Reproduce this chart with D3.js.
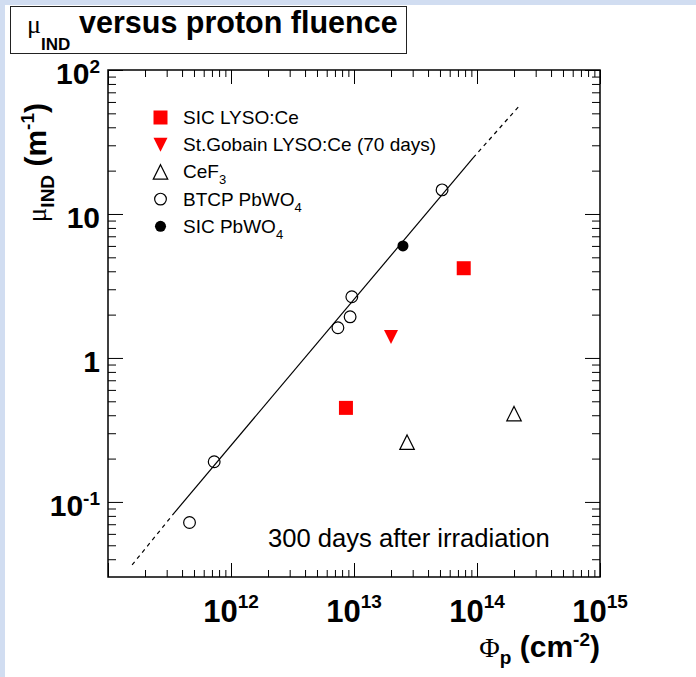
<!DOCTYPE html>
<html>
<head>
<meta charset="utf-8">
<script src="https://cdn.jsdelivr.net/npm/d3@7/dist/d3.min.js"></script>
<style>
  html, body { margin: 0; padding: 0; background: #fff; }
  svg { display: block; }
</style>
</head>
<body>
<div id="graph"></div>
<script>
// data (fluence in cm^-2, mu_IND in m^-1)
const lysoX = [8.6e12, 7.8e13];
const lysoY = [0.45, 4.2];

const gobainX = [2.0e13];
const gobainY = [1.4];

const cef3X = [2.7e13, 2.0e14];
const cef3Y = [0.26, 0.41];

const btcpX = [4.6e11, 7.3e11, 7.4e12, 9.3e12, 9.6e12, 5.2e13];
const btcpY = [0.072, 0.19, 1.62, 1.93, 2.66, 14.7];

const sicPbwoX = [2.5e13];
const sicPbwoY = [6.0];

// fit line, solid part and dashed extrapolations
const fitSolidX = [3.5e11, 9.3e13];
const fitSolidY = [0.085, 24.5];
const fitLowX = [1.57e11, 3.5e11];
const fitLowY = [0.0365, 0.085];
const fitHighX = [9.3e13, 2.24e14];
const fitHighY = [24.5, 57.2];

// tick labels
const xTickValues = [1e12, 1e13, 1e14, 1e15];
const xTickExp = ["12", "13", "14", "15"];
const yTickValues = [100, 10, 1, 0.1];
const yTickBase = ["10", "10", "1", "10"];
const yTickExp = ["2", "", "", "-1"];

const legendLabels = ["SIC LYSO:Ce", "St.Gobain LYSO:Ce (70 days)", "CeF", "BTCP PbWO", "SIC PbWO"];
const legendSubs = ["", "", "3", "4", "4"];

//mått
const width = 696;
const height = 677;
const frame = { left: 108, right: 600, top: 70, bottom: 577 };

const sans = "'Liberation Sans', Arial, Helvetica, sans-serif";
const serif = "'Liberation Serif', 'Times New Roman', serif";

const svg = d3.select("#graph")
    .append("svg")
    .attr("width", width)
    .attr("height", height);

// bakgrund
svg.append("rect").attr("width", width).attr("height", height).attr("fill", "#fff");
svg.append("rect").attr("width", width).attr("height", 5).attr("fill", "#d1ddf1");
svg.append("rect").attr("width", 5).attr("height", height).attr("fill", "#d1ddf1");

const x = d3.scaleLog()
    .domain([1e11, 1e15])
    .range([frame.left, frame.right]);

const y = d3.scaleLog()
    .domain([0.0301, 100])
    .range([frame.bottom, frame.top]);

// ticks (inward, on all four sides)
const isDecade = v => Math.abs(Math.log10(v) - Math.round(Math.log10(v))) < 1e-6;
const xMinor = x.ticks().filter(v => !isDecade(v));
const xMajor = x.ticks().filter(isDecade);
const yMinor = y.ticks().filter(v => !isDecade(v));
const yMajor = y.ticks().filter(isDecade);

function tickGroup(axis, transform) {
    const g = svg.append("g").attr("transform", transform).call(axis);
    g.select(".domain").remove();
    g.selectAll("line").attr("stroke", "#000").attr("stroke-width", 1);
    g.selectAll("text").remove();
    return g;
}

tickGroup(d3.axisBottom(x).tickValues(xMinor).tickSize(-7), `translate(0,${frame.bottom})`);
tickGroup(d3.axisBottom(x).tickValues(xMajor).tickSize(-14), `translate(0,${frame.bottom})`);
tickGroup(d3.axisTop(x).tickValues(xMinor).tickSize(-7), `translate(0,${frame.top})`);
tickGroup(d3.axisTop(x).tickValues(xMajor).tickSize(-14), `translate(0,${frame.top})`);
tickGroup(d3.axisLeft(y).tickValues(yMinor).tickSize(-8), `translate(${frame.left},0)`);
tickGroup(d3.axisLeft(y).tickValues(yMajor).tickSize(-15), `translate(${frame.left},0)`);
tickGroup(d3.axisRight(y).tickValues(yMinor).tickSize(-8), `translate(${frame.right},0)`);
tickGroup(d3.axisRight(y).tickValues(yMajor).tickSize(-15), `translate(${frame.right},0)`);

// ram
svg.append("rect")
    .attr("x", frame.left)
    .attr("y", frame.top)
    .attr("width", frame.right - frame.left)
    .attr("height", frame.bottom - frame.top)
    .attr("fill", "none")
    .attr("stroke", "#000")
    .attr("stroke-width", 1.5);

// x tick labels
xTickValues.forEach((v, i) => {
    const t = svg.append("text")
        .attr("x", x(v))
        .attr("y", 622)
        .attr("text-anchor", "middle")
        .attr("font-family", sans)
        .attr("font-weight", "bold")
        .attr("font-size", 31)
        .text("10");
    t.append("tspan").attr("dy", -14).attr("font-size", 19).text(xTickExp[i]);
});

// y tick labels
yTickValues.forEach((v, i) => {
    const t = svg.append("text")
        .attr("x", 100)
        .attr("y", y(v) + 14)
        .attr("text-anchor", "end")
        .attr("font-family", sans)
        .attr("font-weight", "bold")
        .attr("font-size", 30)
        .text(yTickBase[i]);
    if (yTickExp[i]) {
        t.append("tspan").attr("dy", -11).attr("font-size", 19).text(yTickExp[i]);
    }
});

// axeltitlar
const xTitle = svg.append("text")
    .attr("x", 600)
    .attr("y", 657)
    .attr("text-anchor", "end")
    .attr("font-family", sans)
    .attr("font-weight", "bold")
    .attr("font-size", 30);
xTitle.append("tspan").attr("font-family", serif).attr("font-weight", "normal").attr("font-size", 28).text("Φ");
xTitle.append("tspan").attr("dy", 7).attr("font-size", 19).text("p");
xTitle.append("tspan").attr("dy", -7).text(" (cm");
xTitle.append("tspan").attr("dy", -11).attr("font-size", 19).text("-2");
xTitle.append("tspan").attr("dy", 11).text(")");

const yTitle = svg.append("text")
    .attr("transform", "translate(46,103) rotate(-90)")
    .attr("text-anchor", "end")
    .attr("font-family", sans)
    .attr("font-weight", "bold")
    .attr("font-size", 30);
yTitle.append("tspan").attr("font-family", serif).attr("font-weight", "normal").attr("font-size", 27).text("μ");
yTitle.append("tspan").attr("dy", 8).attr("font-size", 19).text("IND");
yTitle.append("tspan").attr("dy", -8).text(" (m");
yTitle.append("tspan").attr("dy", -12).attr("font-size", 19).text("-1");
yTitle.append("tspan").attr("dy", 12).text(")");

// fit-linje
const line = d3.line().x(d => x(d[0])).y(d => y(d[1]));
const pairs = (xs, ys) => xs.map((v, i) => [v, ys[i]]);

svg.append("path")
    .attr("d", line(pairs(fitSolidX, fitSolidY)))
    .attr("fill", "none")
    .attr("stroke", "#000")
    .attr("stroke-width", 1.2);

[pairs(fitLowX, fitLowY), pairs(fitHighX, fitHighY)].forEach(seg => {
    svg.append("path")
        .attr("d", line(seg))
        .attr("fill", "none")
        .attr("stroke", "#000")
        .attr("stroke-width", 1.2)
        .attr("stroke-dasharray", "4,4");
});

// markörer
const isoTriangle = {
    draw(ctx, size) {
        const s = Math.sqrt(size) / 2;
        ctx.moveTo(0, -s);
        ctx.lineTo(s, s);
        ctx.lineTo(-s, s);
        ctx.closePath();
    }
};

const markerStyles = [
    { type: d3.symbolSquare, size: 196, fill: "#ff0000", stroke: "none", rot: 0 },
    { type: isoTriangle, size: 196, fill: "#ff0000", stroke: "none", rot: 180 },
    { type: isoTriangle, size: 210, fill: "none", stroke: "#000", rot: 0 },
    { type: d3.symbolCircle, size: 108, fill: "none", stroke: "#000", rot: 0 },
    { type: d3.symbolCircle, size: 96, fill: "#000", stroke: "none", rot: 0 }
];

const series = [
    pairs(lysoX, lysoY),
    pairs(gobainX, gobainY),
    pairs(cef3X, cef3Y),
    pairs(btcpX, btcpY),
    pairs(sicPbwoX, sicPbwoY)
];

function drawMarker(g, style, cx, cy) {
    g.append("path")
        .attr("d", d3.symbol().type(style.type).size(style.size)())
        .attr("transform", `translate(${cx},${cy}) rotate(${style.rot})`)
        .attr("fill", style.fill)
        .attr("stroke", style.stroke)
        .attr("stroke-width", 1.2);
}

series.forEach((data, i) => {
    const g = svg.append("g");
    data.forEach(d => drawMarker(g, markerStyles[i], x(d[0]), y(d[1])));
});

// legend
const legendX = 160.5;
const legendTop = 117.5;
const legendStep = 27.2;

legendLabels.forEach((label, i) => {
    const cy = legendTop + i * legendStep;
    drawMarker(svg.append("g"), markerStyles[i], legendX, cy);
    const t = svg.append("text")
        .attr("x", 183)
        .attr("y", cy + 6.5)
        .attr("font-family", sans)
        .attr("font-size", 19)
        .text(label);
    if (legendSubs[i]) {
        t.append("tspan").attr("dy", 6).attr("font-size", 13).text(legendSubs[i]);
    }
});

// text i grafen
svg.append("text")
    .attr("x", 268)
    .attr("y", 547)
    .attr("font-family", sans)
    .attr("font-size", 25.6)
    .text("300 days after irradiation");

// titelruta
svg.append("rect")
    .attr("x", 10.5)
    .attr("y", 6.5)
    .attr("width", 396)
    .attr("height", 47)
    .attr("fill", "#fff")
    .attr("stroke", "#222")
    .attr("stroke-width", 1);

const title = svg.append("text")
    .attr("x", 27)
    .attr("y", 33)
    .attr("font-family", sans)
    .attr("font-weight", "bold")
    .attr("font-size", 30.5);
title.append("tspan").attr("font-family", serif).attr("font-weight", "normal").attr("font-size", 26).text("μ");
title.append("tspan").attr("dy", 17).attr("font-size", 17).text("IND");
title.append("tspan").attr("x", 79).attr("dy", -17).text("versus proton fluence");
</script>
</body>
</html>
